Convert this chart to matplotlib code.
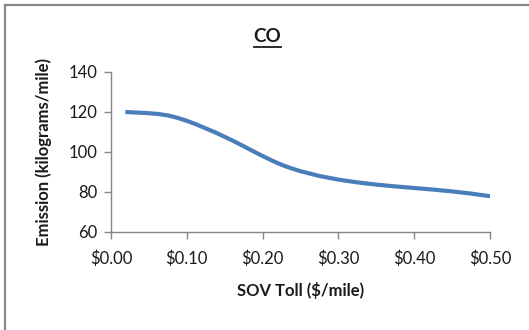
import matplotlib
matplotlib.use("Agg")
import matplotlib.pyplot as plt
from matplotlib.lines import Line2D

# values
toll = [0.019, 0.035, 0.05, 0.0625, 0.075, 0.0875, 0.10, 0.1125, 0.125, 0.1375,
        0.15, 0.1625, 0.175, 0.1875, 0.20, 0.2125, 0.225, 0.2375, 0.25, 0.275,
        0.30, 0.325, 0.35, 0.375, 0.40, 0.425, 0.45, 0.475, 0.50]
emission = [120.0, 119.7, 119.4, 119.0, 118.3, 117.1, 115.6, 113.8, 111.8, 109.8,
            107.6, 105.3, 102.9, 100.4, 98.0, 95.7, 93.6, 91.9, 90.4, 88.0,
            86.2, 84.8, 83.7, 82.8, 82.0, 81.2, 80.3, 79.2, 77.9]
xticks = [0.0, 0.1, 0.2, 0.3, 0.4, 0.5]
yticks = [60, 80, 100, 120, 140]

plt.rcParams['font.family'] = ['Lato', 'DejaVu Sans']
axis_col = '#868686'
text_col = '#1a1a1a'

fig = plt.figure(figsize=(5.29, 3.30), dpi=100)
ax = fig.add_axes([111 / 529, 1 - 232 / 330, 379 / 529, 160 / 330])

ax.plot(toll, emission, color='#4a7ebb', lw=3.0, solid_capstyle='butt',
        solid_joinstyle='round')

ax.set_xlim(0, 0.5)
ax.set_ylim(60, 140)
ax.set_xticks(xticks)
ax.set_xticklabels(['$%.2f' % t for t in xticks])
ax.set_yticks(yticks)

for s in ['top', 'right']:
    ax.spines[s].set_visible(False)
for s in ['left', 'bottom']:
    ax.spines[s].set_color(axis_col)
    ax.spines[s].set_linewidth(1.0)
ax.tick_params(axis='both', colors=axis_col, length=5, width=1.0,
               labelcolor=text_col, labelsize=12)
ax.tick_params(axis='x', pad=8)
ax.tick_params(axis='y', pad=5)

ax.set_xlabel('SOV Toll ($/mile)', fontsize=12, fontweight='bold',
              color=text_col, labelpad=11)
ax.set_ylabel('Emission (kilograms/mile)', fontsize=12, fontweight='bold',
              color=text_col)
ax.yaxis.set_label_coords((52 - 111) / 379, 0.5)

# title with underline
fig.text(267 / 529, 1 - 37 / 330, 'CO', ha='center', va='center',
         fontsize=13.5, fontweight='bold', color=text_col)
fig.add_artist(Line2D([254 / 529, 281 / 529], [1 - 47 / 330, 1 - 47 / 330],
                      color=text_col, lw=1.3))

# chart area frame (only top and left edges visible)
fig.add_artist(Line2D([5 / 529, 5 / 529], [0, 1 - 5 / 330], color='#888888', lw=1.6))
fig.add_artist(Line2D([5 / 529, 1], [1 - 5 / 330, 1 - 5 / 330], color='#888888', lw=1.6))

fig.savefig('out.png', dpi=100)
